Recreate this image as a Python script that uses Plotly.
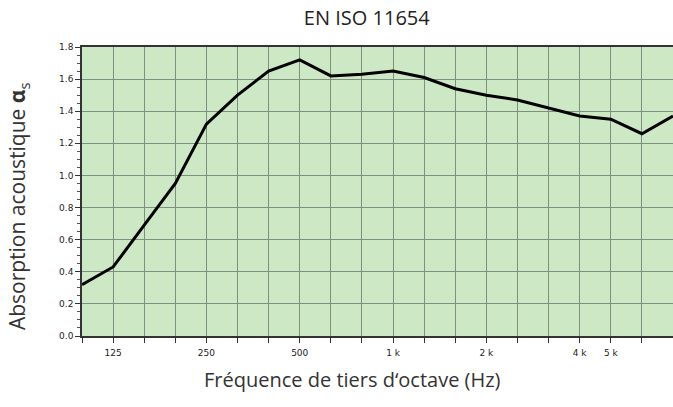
import plotly.graph_objects as go

freqs = ["100", "125", "160", "200", "250", "315", "400", "500", "630", "800",
         "1000", "1250", "1600", "2000", "2500", "3150", "4000", "5000", "6300", "8000"]
alpha_s = [0.32, 0.43, 0.69, 0.95, 1.32, 1.50, 1.65, 1.72, 1.62, 1.63,
           1.65, 1.61, 1.54, 1.50, 1.47, 1.42, 1.37, 1.35, 1.26, 1.37]
tick_labels = {"125": "125", "250": "250", "500": "500", "1000": "1 k",
               "2000": "2 k", "4000": "4 k", "5000": "5 k"}
y_ticks = [0.0, 0.2, 0.4, 0.6, 0.8, 1.0, 1.2, 1.4, 1.6, 1.8]

fig = go.Figure()
fig.add_trace(go.Scatter(x=freqs, y=alpha_s, mode="lines",
                         line=dict(color="black", width=3), hoverinfo="skip"))

grid_col = "#7f8f7f"
fig.update_layout(
    width=673, height=407,
    margin=dict(l=82, r=0, t=47, b=71, autoexpand=False),
    paper_bgcolor="white", plot_bgcolor="#cde8c4",
    showlegend=False,
    title=dict(text="EN ISO 11654", x=0.545, xanchor="center", y=0.955, yanchor="middle",
               font=dict(family="Open Sans", size=20, color="#222")),
    font=dict(family="Open Sans"),
    annotations=[
        dict(text="Fréquence de tiers d‘octave (Hz)", xref="paper", yref="paper",
             x=0.457, y=-0.152, xanchor="center", yanchor="middle", showarrow=False,
             font=dict(family="Open Sans", size=20, color="#333")),
        dict(text="Absorption acoustique <b>α</b><sub>s</sub>", xref="paper", yref="paper",
             x=-0.108, y=0.45, xanchor="center", yanchor="middle", showarrow=False,
             textangle=-90, font=dict(family="Open Sans", size=21, color="#333")),
    ],
)
fig.update_xaxes(
    type="category", range=[0, 19], automargin=False,
    tickmode="array", tickvals=freqs,
    ticktext=[tick_labels.get(f, "") for f in freqs],
    showgrid=True, gridcolor=grid_col, gridwidth=1,
    ticks="outside", ticklen=5, tickcolor="#333", tickwidth=1,
    showline=True, linecolor="#333", linewidth=1.5, mirror=True,
    tickfont=dict(family="DejaVu Sans", size=9, color="#222"),
    ticklabelstandoff=2,
)
fig.update_yaxes(
    range=[0, 1.8], tickmode="array", tickvals=y_ticks, automargin=False,
    ticktext=[f"{v:.1f}" for v in y_ticks],
    showgrid=True, gridcolor=grid_col, gridwidth=1,
    ticks="outside", ticklen=5, tickcolor="#333",
    minor=dict(dtick=0.05, ticks="outside", ticklen=3, tickcolor="#555", showgrid=False),
    showline=True, linecolor="#333", linewidth=1.5, mirror=True,
    zeroline=False,
    tickfont=dict(family="DejaVu Sans", size=9, color="#222"),
)

fig.write_html("out.html", config={"displayModeBar": False},
               post_script="document.body.style.margin='0';document.body.style.overflow='hidden';")
